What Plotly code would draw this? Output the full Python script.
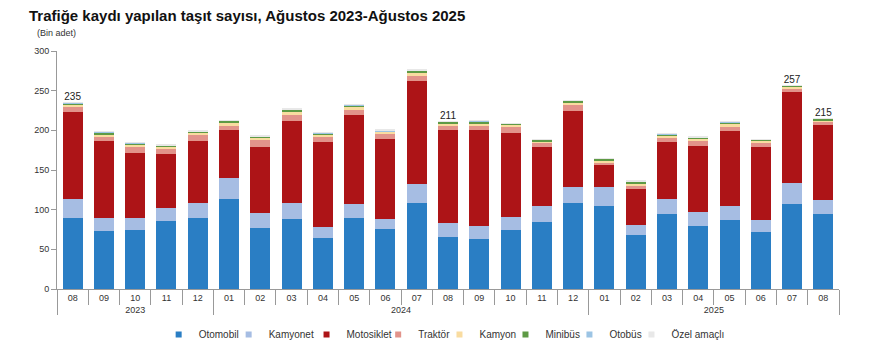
import plotly.graph_objects as go

years = ["2023"] * 5 + ["2024"] * 12 + ["2025"] * 8
months = ["08", "09", "10", "11", "12",
          "01", "02", "03", "04", "05", "06", "07", "08", "09", "10", "11", "12",
          "01", "02", "03", "04", "05", "06", "07", "08"]

otomobil   = [89, 73, 75, 86, 89, 113, 76.5, 88, 64, 89, 76, 109, 66, 63, 74, 84.5, 109, 104, 68.5, 95, 80, 87, 72, 107, 95]
kamyonet   = [24, 17, 15, 16, 20, 27, 19, 20, 14, 18, 12, 23, 17, 16, 17, 20, 20, 24, 12.5, 18, 17, 17, 15, 27, 17]
motosiklet = [110, 96, 82, 68, 77, 60, 84, 104, 107, 112, 101, 130, 117, 121, 106, 74, 95, 28, 45, 72, 83, 95, 92, 114, 95]
traktor    = [6, 6, 7, 6, 8, 5, 8, 7, 7, 7, 6, 7, 6, 6, 7, 6, 8, 3, 3.5, 5, 6.5, 5.5, 6, 4, 4]
kamyon     = [3, 3, 3, 3, 3, 5, 3, 5, 3, 4, 3, 4, 3, 3, 3, 2, 3.5, 3, 3.5, 3, 3, 3.5, 2, 3, 2]
minibus    = [2, 2, 2, 2, 1.5, 2, 1.5, 2, 1.5, 1.5, 1, 2, 1.5, 2.5, 1.2, 2, 2, 2, 2.5, 2, 1.5, 2, 1.5, 1.5, 1.5]
otobus     = [0.6, 1, 0.5, 0.5, 0.5, 0.6, 0.5, 0.5, 0.5, 0.5, 0.8, 0.8, 0.3, 0.8, 0.5, 0.3, 0.3, 0.6, 0.5, 0.5, 0.5, 0.5, 0.3, 0.3, 0.3]
ozel       = [0.4, 1, 0.5, 0.5, 0.5, 0.4, 0.5, 0.5, 0.5, 0.5, 0.8, 0.7, 0.2, 0.7, 0.5, 0.2, 0.2, 0.4, 0.5, 0.5, 0.5, 0.5, 0.2, 0.2, 0.2]

series_names = ["Otomobil", "Kamyonet", "Motosiklet", "Traktör", "Kamyon", "Minibüs", "Otobüs", "Özel amaçlı"]
series_vals = [otomobil, kamyonet, motosiklet, traktor, kamyon, minibus, otobus, ozel]
colors = ["#2a7ec4", "#a6bde3", "#ad1417", "#e2938a", "#f9dca0", "#5e9a45", "#9cc4e4", "#e8e8e8"]

label_idx = [0, 12, 23, 24]
label_text = ["235", "211", "257", "215"]

# legend entry left edges (paper fraction of the plot width)
legend_x = [0.1300, 0.2195, 0.3191, 0.4107, 0.4891, 0.5735, 0.6553, 0.7346]

# multicategory axis keeps sub-categories in first-appearance order; make each
# year's month keys distinct (zero-width suffix) so the chronological order is kept
year_order = sorted(set(years))
month_keys = [m + "\u200b" * year_order.index(y) for y, m in zip(years, months)]
x = [years, month_keys]

fig = go.Figure()
for name, vals, col in zip(series_names, series_vals, colors):
    fig.add_trace(go.Bar(x=x, y=vals, name=name, showlegend=False,
                         marker=dict(color=col, line=dict(width=0))))

legend_layout = {}
for i, (name, col, lx) in enumerate(zip(series_names, colors, legend_x)):
    key = "legend" if i == 0 else f"legend{i + 1}"
    fig.add_trace(go.Scatter(x=[[years[0]], [month_keys[0]]], y=[None], mode="markers", name=name,
                             legend=key, marker=dict(symbol="square", size=6, color=col),
                             hoverinfo="skip"))
    legend_layout[key] = dict(orientation="h", x=lx, xanchor="left", y=-0.191, yanchor="middle",
                              font=dict(size=10, color="#333"), itemwidth=30,
                              bgcolor="rgba(0,0,0,0)", borderwidth=0)

totals = [sum(v[i] for v in series_vals) for i in range(len(months))]
fig.add_trace(go.Scatter(
    x=[[years[i] for i in label_idx], [month_keys[i] for i in label_idx]],
    y=[totals[i] for i in label_idx],
    text=label_text, mode="text", textposition="top center",
    textfont=dict(size=10, color="#222"), showlegend=False, hoverinfo="skip", cliponaxis=False))

fig.update_layout(
    barmode="stack",
    bargap=0.36,
    width=869, height=353,
    margin=dict(l=49, r=38, t=43, b=72, autoexpand=False),
    paper_bgcolor="white", plot_bgcolor="white",
    font=dict(family="Liberation Sans, Arial, sans-serif", size=9, color="#333"),
    title=dict(text="<b>Trafiğe kaydı yapılan taşıt sayısı, Ağustos 2023-Ağustos 2025</b>",
               x=0.0242, xanchor="left", y=0.9773, yanchor="middle",
               font=dict(size=15, color="#111")),
    annotations=[dict(text="(Bin adet)", xref="paper", yref="paper", x=-0.028, y=1.0756,
                      xanchor="left", yanchor="middle", showarrow=False,
                      font=dict(size=9, color="#333"))],
    **legend_layout,
)
fig.update_yaxes(range=[0, 300], dtick=50, showgrid=False, showline=True, linecolor="#999",
                 ticks="outside", ticklen=5, tickcolor="#999", zeroline=False,
                 tickfont=dict(size=9), automargin=False)
fig.update_xaxes(type="multicategory", range=[-0.5, len(months) - 0.5],
                 showline=True, linecolor="#999",
                 ticks="outside", tickson="boundaries", ticklen=15, tickcolor="#999",
                 showdividers=True, dividercolor="#999", dividerwidth=1,
                 tickfont=dict(size=9), showgrid=False, automargin=False)

fig.write_html("out.html")
